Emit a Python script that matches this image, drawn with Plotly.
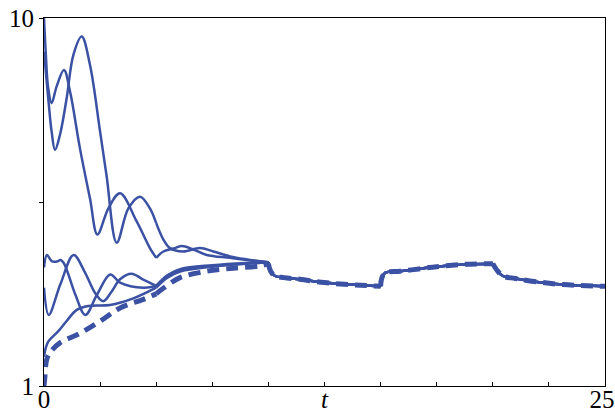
import plotly.graph_objects as go

# ---- data (t, value) ----
A_T = [0, 0.08, 0.18, 0.34, 0.56, 0.89, 1.16, 1.6, 2.05, 2.38, 2.87, 3.39, 4.13, 4.72, 5.0,
       5.32, 5.84, 6.14, 6.65, 7.25, 8.29, 9.03, 10]
A_Y = [10.0, 8.0, 6.5, 5.87, 6.51, 7.22, 6.31, 4.43, 3.23, 2.58, 3.04, 3.34, 2.80, 2.37, 2.23,
       2.32, 2.37, 2.40, 2.35, 2.27, 2.23, 2.20, 2.17]

B_T = [0, 0.19, 0.34, 0.49, 0.71, 1.01, 1.31, 1.68, 2.05, 2.5, 2.79, 3.24, 3.76, 4.28, 4.72, 5.0,
       5.32, 5.61, 6.2, 6.95, 7.55, 8.29, 9.0, 10]
B_Y = [8.1, 6.05, 4.91, 4.38, 4.81, 6.05, 7.94, 8.9, 7.45, 4.91, 3.72, 2.45, 3.04, 3.27, 3.04, 2.77,
       2.5, 2.37, 2.32, 2.37, 2.32, 2.25, 2.21, 2.17]

C_T = [0, 0.13, 0.36, 0.58, 0.73, 0.88, 1.4, 1.84, 2.36, 2.95, 3.39, 4.43, 5.0,
       5.47, 6.06, 7.55, 9.0, 10]
C_Y = [2.1, 2.27, 2.18, 2.18, 2.2, 2.16, 1.77, 1.56, 1.77, 2.01, 1.91, 1.85, 1.87,
       1.99, 2.07, 2.12, 2.15, 2.17]

D_T = [0, 0.21, 0.73, 1.32, 1.8, 2.3, 2.64, 3.0, 3.39, 3.9, 4.4, 5.0,
       5.5, 6.1, 7.5, 9.0, 10]
D_Y = [1.85, 1.56, 1.89, 2.27, 2.05, 1.78, 1.70, 1.80, 1.95, 2.02, 1.95, 1.87,
       2.0, 2.08, 2.13, 2.16, 2.17]

E_T = [0, 0.08, 0.19, 0.64, 1.0, 1.46, 1.97, 2.94, 3.98, 5.0,
       5.5, 6.1, 7.5, 9.0, 10]
E_Y = [1.2, 1.27, 1.32, 1.41, 1.5, 1.61, 1.65, 1.66, 1.73, 1.85,
       1.97, 2.05, 2.11, 2.15, 2.17]

F_T = [0, 0.04, 0.12, 0.3, 0.71, 1.6, 2.5, 3.39, 4.43, 5.0, 5.3, 6.06, 7.25, 8.44, 9.63, 10]
F_Y = [1.0, 1.06, 1.18, 1.24, 1.31, 1.39, 1.5, 1.63, 1.72, 1.78, 1.84, 1.97, 2.05, 2.09, 2.12, 2.15]

# common tail shared by all curves after t = 10
TAIL_T = [10.1, 10.3, 10.7, 11.4, 12.5, 13.6, 15.0, 15.05, 15.2, 15.86, 16.7, 17.5, 18.69, 20.0,
          20.17, 20.45, 21.0, 21.66, 23.14, 25.0]
TAIL_Y = [2.05, 1.99, 1.97, 1.95, 1.91, 1.886, 1.866, 1.96, 2.03, 2.05, 2.08, 2.11, 2.14, 2.15,
          2.07, 1.99, 1.96, 1.93, 1.886, 1.866]

BREAKS = [5, 10, 15, 20]
X_TICKS = [0, 2.5, 5, 7.5, 10, 12.5, 15, 17.5, 20, 22.5, 25]
X_TEXT = ["0", "", "", "", "", "<i>t</i>", "", "", "", "", "25\u00a0"]
Y_TICKS = [1, 10 ** 0.5, 10]
Y_TEXT = ["1", "", "10"]

COLOR = "#3b51a3"


def segments(ts, ys):
    segs = []
    ct, cy = [], []
    for t, y in zip(ts, ys):
        ct.append(t)
        cy.append(y)
        if t in BREAKS and len(ct) > 1:
            segs.append((ct, cy))
            ct, cy = [t], [y]
    if len(ct) > 1:
        segs.append((ct, cy))
    return segs


fig = go.Figure()

curves = [(A_T, A_Y, False), (B_T, B_Y, False), (C_T, C_Y, False),
          (D_T, D_Y, False), (E_T, E_Y, False), (F_T, F_Y, True)]

for ts, ys, dashed in curves:
    full_t = ts + TAIL_T
    full_y = ys + TAIL_Y
    for st, sy in segments(full_t, full_y):
        fig.add_trace(go.Scatter(
            x=st, y=sy, mode="lines",
            line=dict(color=COLOR, width=5 if dashed else 2.5,
                      dash="12px,7px" if dashed else "solid",
                      shape="spline", smoothing=1.0),
            showlegend=False, hoverinfo="skip", cliponaxis=True))

font = dict(family="Liberation Serif", size=25, color="black")

fig.update_layout(
    width=615, height=411,
    margin=dict(l=44, r=10, t=18, b=25, autoexpand=False),
    paper_bgcolor="white", plot_bgcolor="white",
    showlegend=False,
    font=font,
)
fig.update_xaxes(
    range=[0, 25], showgrid=False, zeroline=False, automargin=False,
    showline=True, linecolor="black", linewidth=1, mirror=True,
    ticks="inside", ticklen=4, tickcolor="black", tickwidth=1,
    tickvals=X_TICKS, ticktext=X_TEXT, tickfont=font,
    ticklabeloverflow="allow", ticklabelstandoff=-9,
)
fig.update_yaxes(
    type="log", range=[0, 1], showgrid=False, zeroline=False, automargin=False,
    showline=True, linecolor="black", linewidth=1, mirror=True,
    ticks="outside", ticklen=4, tickcolor="black", tickwidth=1,
    tickvals=Y_TICKS, ticktext=Y_TEXT, tickfont=font,
    ticklabeloverflow="allow",
)

# remove the browser's default 8px body margin so the figure fills the window
fig.write_html(
    "out.html",
    config={"displayModeBar": False},
    post_script="document.body.style.margin='0px';document.body.style.overflow='hidden';",
)
